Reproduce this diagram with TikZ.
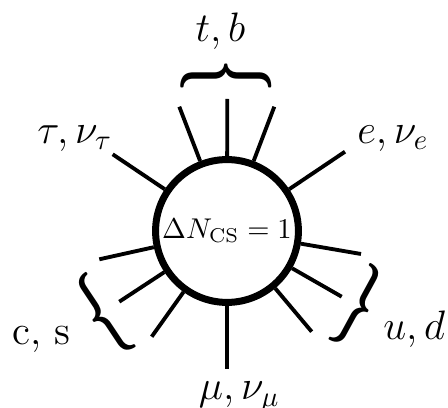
\documentclass[tikz,border=0pt]{standalone}
\usepackage{graphicx}
\begin{document}
\begin{tikzpicture}[x=0.35pt,y=0.35pt,
  spoke/.style={line width=1.35pt},
  lbl/.style={inner sep=0pt, anchor=base west, font=\Large},
  bracenode/.style={inner sep=0pt, outer sep=0pt}]
\useasboundingbox (0,0) rectangle (448,408);
% central sphaleron vertex
\node[circle, draw, line width=2.45pt, minimum size=50pt, inner sep=0pt] (core) at (227,177) {$\Delta N_{\mathrm{CS}}=1$};
% outer ends of the legs
\coordinate (t1) at (179.3,301.3);
\coordinate (t2) at (227.3,309);
\coordinate (t3) at (274.3,301.3);
\coordinate (e1) at (345,256.3);
\coordinate (tau1) at (112.7,253.7);
\coordinate (r1) at (361,154);
\coordinate (r2) at (341.7,111.3);
\coordinate (r3) at (311.7,76.3);
\coordinate (b1) at (227,39);
\coordinate (l1) at (99.3,148.7);
\coordinate (l2) at (119.3,106.3);
\coordinate (l3) at (151.7,71.3);
\foreach \p in {t1,t2,t3,e1,tau1,r1,r2,r3,b1,l1,l2,l3}
  \draw[spoke] (core) -- (\p);
% braces
\node[bracenode, rotate=-90] (topbrace) at (226.2,331.5) {\resizebox*{11.55pt}{31.85pt}{\mathversion{bold}$\{$}};
\node[bracenode, rotate=33.7] (leftbrace) at (102.5,93) {\resizebox*{10.5pt}{31.5pt}{\mathversion{bold}$\{$}};
\node[bracenode, rotate=-28.6] (rightbrace) at (359,101) {\resizebox*{10.5pt}{30.5pt}{\mathversion{bold}$\}$}};
% labels
\node[lbl] (tb) at (195,366.3) {$t,b$};
\node[lbl] (enu) at (356.7,264.7) {$e,\nu_e$};
\node[lbl] (taunu) at (36.7,264.7) {$\tau,\nu_\tau$};
\node[lbl] (cs) at (11.7,63) {c, s};
\node[lbl] (ud) at (382.7,68) {$u,d$};
\node[lbl] (munu) at (198.3,8) {$\mu,\nu_\mu$};
\end{tikzpicture}
\end{document}
